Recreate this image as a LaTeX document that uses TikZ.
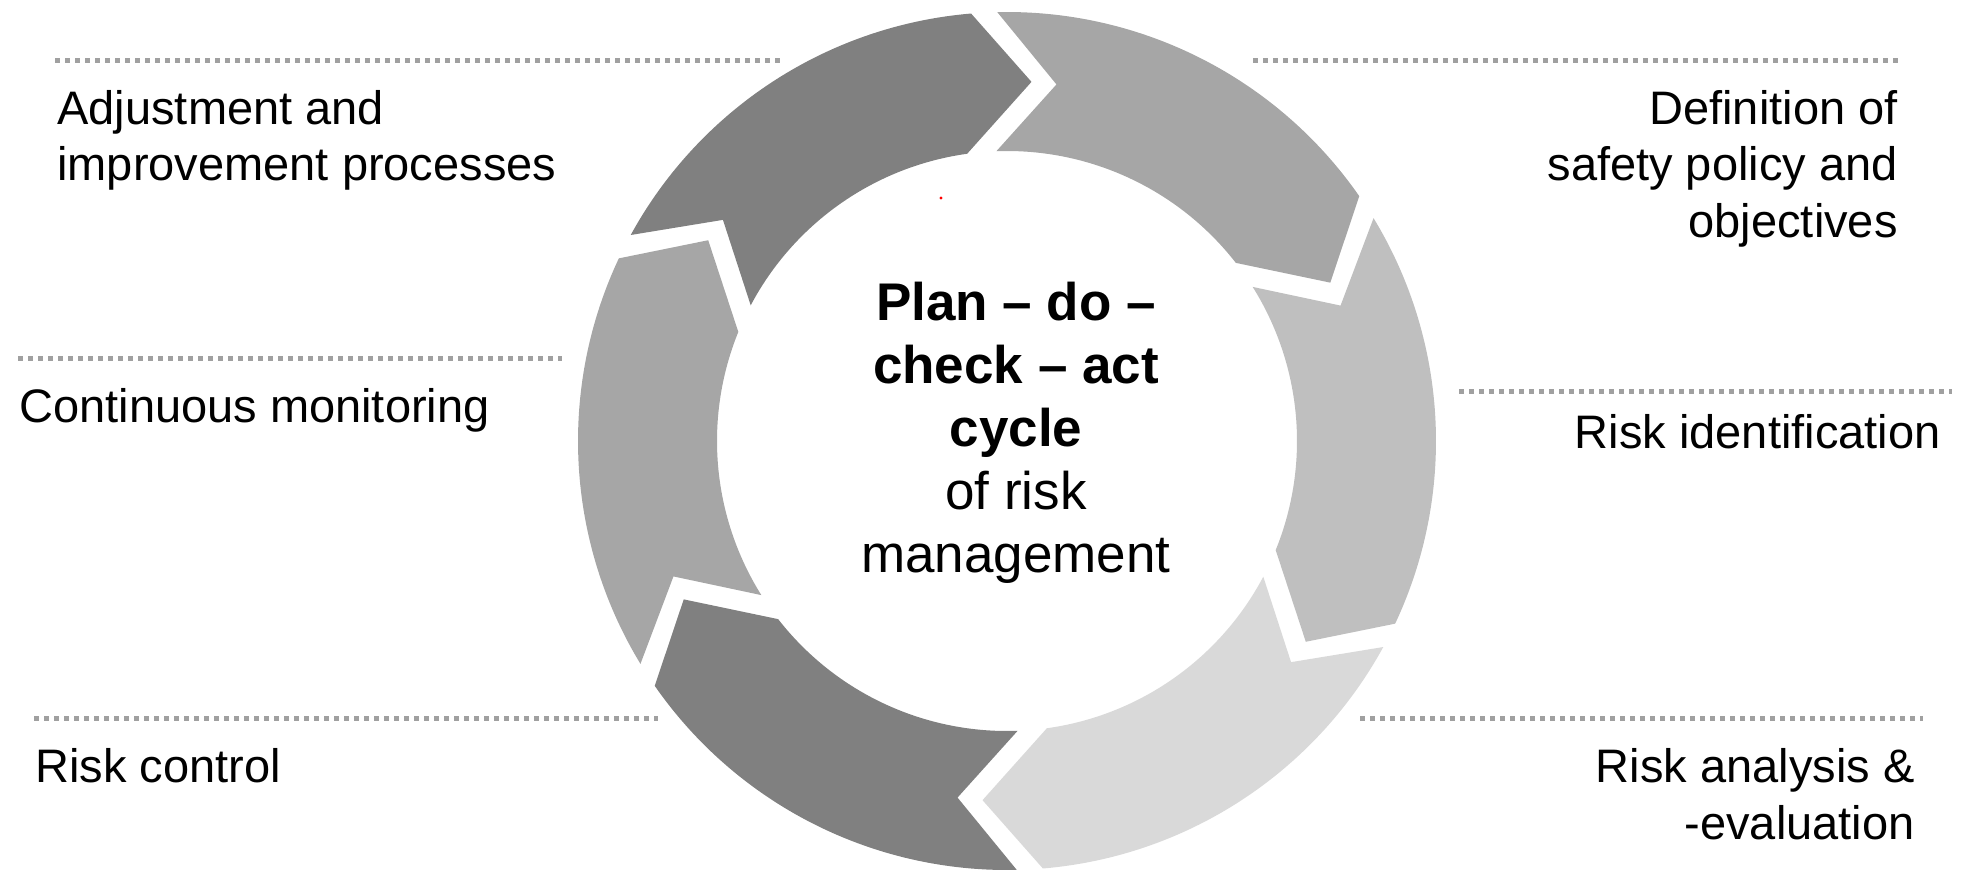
\documentclass[tikz,border=0pt]{standalone}
\usepackage{fontspec}
\setmainfont{Liberation Sans}
\usetikzlibrary{calc}
\definecolor{segdk}{RGB}{128,128,128}
\definecolor{segmd}{RGB}{166,166,166}
\definecolor{seglt}{RGB}{191,191,191}
\definecolor{segxl}{RGB}{217,217,217}
\definecolor{dotc}{RGB}{160,160,160}
\begin{document}
\begin{tikzpicture}[x=0.5pt,y=0.5pt,
  sidetext/.style={inner sep=0pt, font=\fontsize{23.5}{28}\selectfont},
  midtext/.style={inner sep=0pt, anchor=base, font=\fontsize{26.5}{32}\selectfont},
  midbold/.style={inner sep=0pt, anchor=base, font=\fontsize{26.5}{32}\selectfont\bfseries},
  dotline/.style={draw=dotc, line width=2.5pt, dash pattern=on 2.5pt off 2.5pt}]
\useasboundingbox (0,0) rectangle (1978,-885);
\coordinate (C) at (1007,-441);
% ring of six chevron segments
\foreach \gs/\col in {154.8/segdk, 94.8/segmd, 34.8/seglt, -25.2/segxl, -85.2/segdk, -145.2/segmd} {
  \pgfmathsetmacro\ge{\gs-60}
  \fill[\col] ($(C)+({\gs-3.5}:214.5pt)$)
    arc[start angle={\gs-3.5}, end angle=\ge, radius=214.5pt]
    -- ($(C)+({\ge-8.7}:180pt)$)
    -- ($(C)+({\ge+3.1}:145pt)$)
    arc[start angle={\ge+3.1}, end angle={\gs-2.7}, radius=145pt]
    -- ($(C)+({\gs-12.7}:180pt)$) -- cycle;
}
% dotted rules
\coordinate (l1a) at (55,-60);   \coordinate (l1b) at (782,-60);
\coordinate (l2a) at (1253,-60); \coordinate (l2b) at (1898,-60);
\coordinate (l3a) at (18,-358);  \coordinate (l3b) at (562,-358);
\coordinate (l4a) at (1459,-391);\coordinate (l4b) at (1952,-391);
\coordinate (l5a) at (34,-718);  \coordinate (l5b) at (658,-718);
\coordinate (l6a) at (1360,-718);\coordinate (l6b) at (1923,-718);
\draw[dotline] (l1a) -- (l1b);
\draw[dotline] (l2a) -- (l2b);
\draw[dotline] (l3a) -- (l3b);
\draw[dotline] (l4a) -- (l4b);
\draw[dotline] (l5a) -- (l5b);
\draw[dotline] (l6a) -- (l6b);
% small red dot
\fill[red] (941,-198) circle[radius=0.8pt];
% side texts
\node[sidetext, anchor=base west] (adj1) at (57,-124) {Adjustment and};
\node[sidetext, anchor=base west] (adj2) at (57,-180) {improvement processes};
\node[sidetext, anchor=base west] (mon) at (19,-422) {Continuous monitoring};
\node[sidetext, anchor=base west] (ctl) at (35,-782) {Risk control};
\node[sidetext, anchor=base east] (def1) at (1898,-124) {Definition of};
\node[sidetext, anchor=base east] (def2) at (1898,-180) {safety policy and};
\node[sidetext, anchor=base east] (def3) at (1898,-237) {objectives};
\node[sidetext, anchor=base east] (rid) at (1941,-448) {Risk identification};
\node[sidetext, anchor=base east] (ran1) at (1915,-782) {Risk analysis \&};
\node[sidetext, anchor=base east] (ran2) at (1915,-839) {-evaluation};
% centre text
\node[midbold] (c1) at (1016,-320) {Plan – do –};
\node[midbold] (c2) at (1016,-383) {check – act};
\node[midbold] (c3) at (1016,-446) {cycle};
\node[midtext] (c4) at (1016,-509) {of risk};
\node[midtext] (c5) at (1016,-572) {management};
\end{tikzpicture}
\end{document}
